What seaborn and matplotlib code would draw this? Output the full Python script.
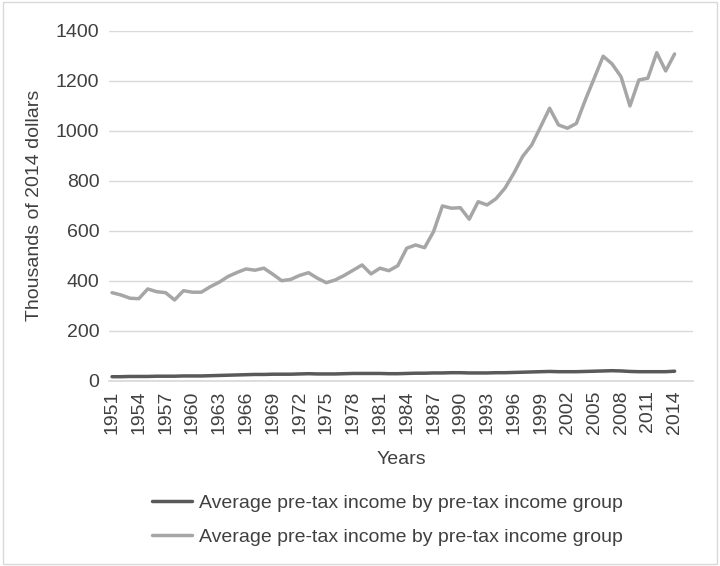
import numpy as np
import pandas as pd
import matplotlib
matplotlib.use("Agg")
import matplotlib.pyplot as plt
import seaborn as sns

years = list(range(1951, 2015))

# light grey series (top group)
top_income = [352, 343, 330, 328, 367, 356, 352, 323, 360, 354,
              354, 376, 394, 417, 433, 447, 442, 450, 426, 400,
              405, 421, 432, 410, 392, 403, 421, 442, 463, 427,
              450, 440, 460, 530, 543, 532, 596, 699, 690, 692,
              646, 716, 703, 728, 770, 830, 898, 943, 1016, 1090,
              1023, 1010, 1029, 1123, 1210, 1298, 1267, 1216, 1099, 1203,
              1210, 1312, 1239, 1307]

# dark grey series (bottom group)
bottom_income = [16, 16, 17, 17, 17, 18, 18, 18, 19, 19,
                 19, 20, 21, 22, 23, 24, 25, 25, 26, 26,
                 26, 27, 28, 27, 27, 27, 28, 29, 29, 29,
                 29, 28, 28, 29, 30, 30, 31, 31, 32, 32,
                 31, 31, 31, 32, 32, 33, 34, 35, 36, 37,
                 36, 36, 36, 37, 38, 39, 40, 39, 37, 36,
                 36, 36, 36, 38]

label = "Average pre-tax income by pre-tax income group"
yticks = list(range(0, 1401, 200))
xticks = list(range(1951, 2015, 3))

df = pd.DataFrame({"year": years, "top": top_income, "bottom": bottom_income})

sns.set_theme(style="white")
plt.rcParams["font.family"] = ["Liberation Sans", "DejaVu Sans"]
text_col = "#404040"
fs = 14

fig = plt.figure(figsize=(7.2, 5.66), dpi=100)
ax = fig.add_axes([109 / 720, (566 - 380.7) / 566, 584 / 720, 350 / 566])

sns.lineplot(data=df, x="year", y="bottom", color="#595959", linewidth=2.5,
             label=label, ax=ax, legend=False)
sns.lineplot(data=df, x="year", y="top", color="#A6A6A6", linewidth=2.5,
             label=label, ax=ax, legend=False)

ax.set_xlim(1950.66, 2016.06)
ax.set_ylim(0, 1400)
ax.set_yticks(yticks)
ax.set_xticks(xticks)
ax.set_xticklabels([str(y) for y in xticks], rotation=90)
ax.yaxis.grid(True, color="#D9D9D9", linewidth=1)
ax.set_axisbelow(True)
for s in ["top", "right", "left"]:
    ax.spines[s].set_visible(False)
ax.spines["bottom"].set_color("#D9D9D9")
ax.tick_params(axis="both", length=0, labelsize=fs, colors=text_col)
ax.tick_params(axis="y", pad=7)
ax.tick_params(axis="x", pad=7)

ax.set_ylabel("Thousands of 2014 dollars", fontsize=fs, color=text_col)
ax.yaxis.label.set_va("center")
ax.yaxis.set_label_coords(-(109 - 34.5) / 584, 0.5)
ax.set_xlabel("Years", fontsize=fs, color=text_col)
ax.xaxis.label.set_va("center")
ax.xaxis.set_label_coords(0.5, -(459 - 380.7) / 350)

fig.legend(loc="center", bbox_to_anchor=(0.538, 0.0813), frameon=False,
           fontsize=fs, labelcolor=text_col, handlelength=2.06,
           labelspacing=0.86, handletextpad=0.36)

fig.patches.append(plt.Rectangle((0.004, 0.004), 0.992, 0.992, transform=fig.transFigure,
                                 fill=False, edgecolor="#D9D9D9", linewidth=1))

fig.savefig("out.png", dpi=100)
